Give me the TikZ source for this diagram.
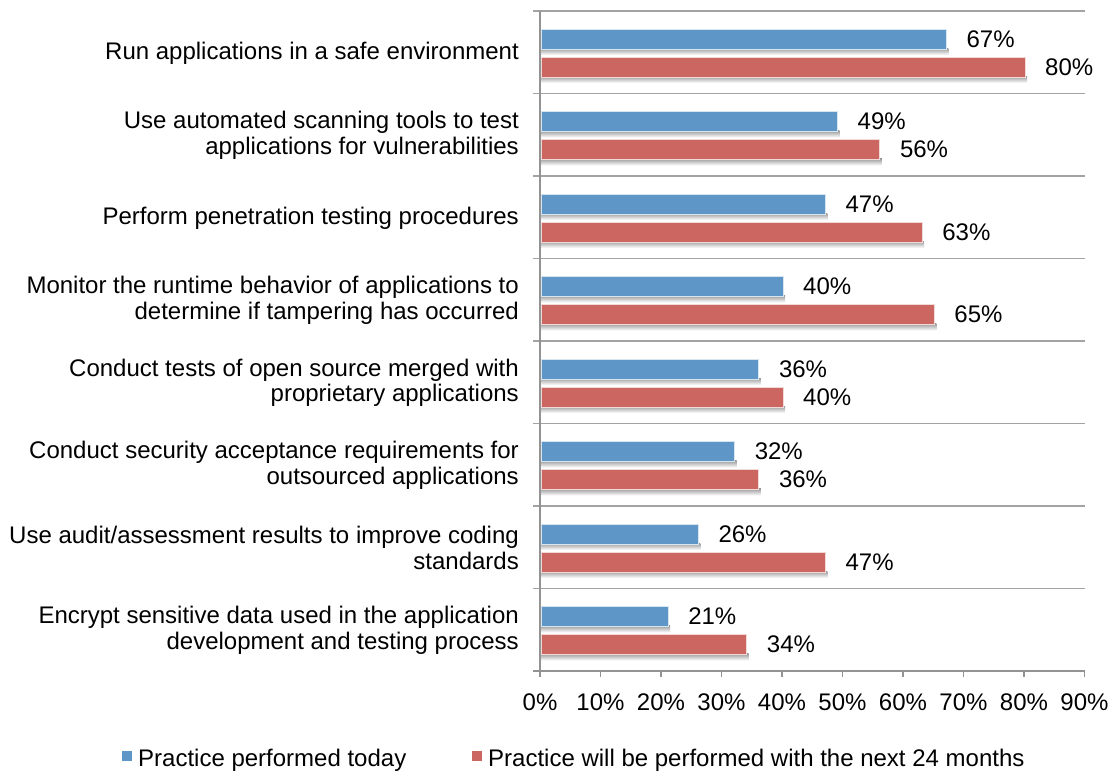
\documentclass[tikz,border=0pt]{standalone}
\usepackage{fontspec}
\setmainfont{Liberation Sans}
\definecolor{barblue}{HTML}{5F96C8}
\definecolor{barred}{HTML}{CC6661}
\definecolor{gridgray}{HTML}{A3A3A3}
\begin{document}
\begin{tikzpicture}[x=1pt,y=-1pt,
  font=\fontsize{24}{25.5}\selectfont,
  gridline/.style={draw=gridgray,line width=1.5pt},
  axisline/.style={draw=gridgray!90!black,line width=1.5pt},
  barbase/.style={inner sep=0pt,outer sep=0pt,minimum height=20pt,anchor=north west,line width=0.8pt},
  bluebar/.style={barbase,fill=barblue,draw=white!75!barblue},
  redbar/.style={barbase,fill=barred,draw=white!75!barred},
  barshadow/.style={top color=black!40,bottom color=white},
  vallabel/.style={anchor=west,inner sep=0pt},
  catlabel/.style={anchor=east,align=right,inner sep=0pt},
  ticklabel/.style={anchor=base,inner sep=0pt},
  legsquare/.style={inner sep=0pt,minimum size=10pt,anchor=north west},
  legtext/.style={anchor=base west,inner sep=0pt}
]
\useasboundingbox (0,0) rectangle (1113,771);
% grid lines and left ticks
\foreach \k in {0,...,7}{
  \draw[gridline] (533,{11+82.5*\k}) -- (1085,{11+82.5*\k});
}
% bottom axis
\coordinate (axL) at (533,671);
\coordinate (axR) at (1085,671);
\draw[axisline] (axL) -- (axR);
\coordinate (axTop) at (540,11);
\coordinate (axBot) at (540,677);
\draw[axisline] (axTop) -- (axBot);
\foreach \t/\txt in {0/0,1/10,2/20,3/30,4/40,5/50,6/60,7/70,8/80,9/90}{
  \draw[axisline] ({540+60.5*\t},671) -- ({540+60.5*\t},677);
  \node[ticklabel] (t\t) at ({540+60.5*\t},710) {\txt\%};
}
% bars
\foreach \i/\b/\r/\lab in {
  0/67/80/{Run applications in a safe environment},
  1/49/56/{Use automated scanning tools to test\\applications for vulnerabilities},
  2/47/63/{Perform penetration testing procedures},
  3/40/65/{Monitor the runtime behavior of applications to\\determine if tampering has occurred},
  4/36/40/{Conduct tests of open source merged with\\proprietary applications},
  5/32/36/{Conduct security acceptance requirements for\\outsourced applications},
  6/26/47/{Use audit/assessment results to improve coding\\standards},
  7/21/34/{Encrypt sensitive data used in the application\\development and testing process}}{
  \pgfmathsetmacro{\top}{11+82.5*\i}
  \pgfmathsetmacro{\bw}{6.05*\b}
  \pgfmathsetmacro{\rw}{6.05*\r}
  \shade[barshadow] (541,{\top+37}) rectangle ({541+\bw+2},{\top+44});
  \shade[barshadow] (541,{\top+65}) rectangle ({541+\rw+2},{\top+72});
  \node[bluebar,minimum width=\bw pt] (b\i) at (541,{\top+18}) {};
  \node[redbar,minimum width=\rw pt] (r\i) at (541,{\top+46}) {};
  \node[vallabel] (bv\i) at ([xshift=20pt]b\i.east) {\b\%};
  \node[vallabel] (rv\i) at ([xshift=20pt]r\i.east) {\r\%};
  \node[catlabel] (c\i) at (519,{\top+42}) {\lab};
}
% legend
\node[legsquare,fill=barblue] (lgb) at (122,751) {};
\node[legtext] (lgbt) at (138,766) {Practice performed today};
\node[legsquare,fill=barred] (lgr) at (472,751) {};
\node[legtext] (lgrt) at (488,766) {Practice will be performed with the next 24 months};
\end{tikzpicture}
\end{document}
